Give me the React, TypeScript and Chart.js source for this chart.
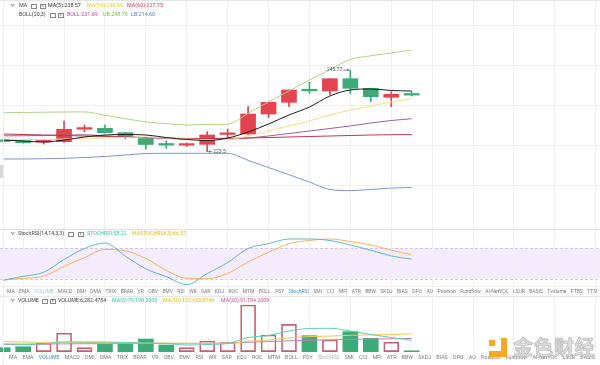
import React, { useEffect, useRef } from "react";
import { Chart, registerables } from "chart.js";
Chart.register(...registerables);

// ---------- data ----------
const indices = [0, 1, 2, 3, 4, 5, 6, 7, 8, 9, 10, 11, 12, 13, 14, 15, 16, 17, 18, 19, 20];
const opens = [226.14, 226.22, 225.88, 225.97, 229.08, 229.3, 228.21, 226.77, 225.18, 225.1, 225.32, 227.78, 227.89, 232.86, 235.77, 238.7, 238.58, 241.64, 239.25, 237.02, 237.62];
const closes = [226.02, 225.72, 225.95, 229.05, 229.15, 228.21, 227.14, 225.27, 225.12, 225.18, 227.64, 227.85, 232.86, 235.77, 238.83, 238.62, 241.64, 239.25, 237.16, 237.76, 237.56];
const highs = [226.39, 226.39, 226.39, 231.12, 230.12, 230.12, 228.3, 226.9, 226.14, 225.65, 228.46, 229.13, 234.68, 235.85, 238.9, 240.75, 241.7, 243.81, 239.3, 238.41, 238.41];
const lows = [225.9, 225.6, 225.4, 225.82, 228.46, 228.1, 226.64, 224.15, 224.28, 224.77, 223.5, 227.14, 227.8, 231.94, 234.68, 238.01, 237.59, 237.84, 235.92, 234.68, 237.34];

const ma5 = [226.39, 226.14, 225.9, 226.39, 227.14, 227.64, 227.76, 227.64, 227.01, 226.52, 226.27, 226.89, 228.38, 230.37, 232.61, 234.6, 237.34, 238.83, 239.08, 238.71, 238.57];
const ma10 = [226.64, 226.52, 226.52, 226.64, 226.77, 226.89, 227.01, 227.14, 226.89, 226.64, 226.52, 226.52, 227.39, 228.63, 229.88, 231.12, 232.61, 233.86, 234.85, 235.85, 236.69];
const ma60 = [227.89, 227.76, 227.64, 227.51, 227.39, 227.26, 227.14, 227.01, 226.89, 226.77, 226.77, 226.82, 226.89, 227.01, 227.14, 227.26, 227.39, 227.51, 227.64, 227.71, 227.75];
const bollMid = [227.43, 227.45, 227.52, 227.6, 227.71, 227.42, 227.18, 226.97, 226.78, 226.6, 226.57, 226.62, 226.89, 227.39, 228.01, 228.63, 229.25, 229.88, 230.62, 231.24, 231.69];
const bollUp = [233.18, 233.23, 233.31, 233.36, 233.38, 232.54, 231.69, 230.9, 230.47, 230.12, 230.25, 230.3, 233.03, 235.87, 238.61, 241.32, 243.87, 246.42, 247.34, 248.04, 248.78];
const bollLow = [221.67, 221.67, 221.74, 221.84, 222.04, 222.29, 222.66, 223.03, 223.08, 223.08, 223.08, 223.08, 221.34, 219.53, 217.76, 215.95, 214.08, 213.81, 214.08, 214.43, 214.6];

const stochK = [16.9, 24.7, 32.5, 57.5, 79.0, 89.8, 64.2, 39.3, 24.1, 8.3, 30.0, 51.5, 79.0, 88.4, 97.6, 97.6, 94.7, 85.9, 75.7, 64.4, 58.22];
const stochD = [16.9, 20.8, 24.7, 44.2, 61.0, 77.1, 74.5, 59.5, 36.2, 20.8, 20.0, 30.2, 52.6, 71.6, 88.4, 94.7, 97.6, 92.7, 85.9, 75.7, 66.57];
const stochBand = [20, 80];

const volumes = [27600, 34500, 58000, 127000, 27600, 51000, 51000, 87600, 46200, 27600, 73800, 62100, 322000, 115200, 189000, 110400, 80700, 138000, 92500, 64900, 6282.4784];
const volMa5 = [53100, 49700, 53100, 66900, 66900, 66900, 63500, 60000, 56600, 46200, 49700, 56600, 98000, 111800, 142800, 160100, 161500, 142800, 118700, 98000, 79190.5009];
const volMa10 = [69000, 67000, 65000, 66000, 64000, 62000, 61000, 60000, 59000, 58000, 57000, 57000, 72000, 80000, 95000, 104000, 108000, 113000, 116000, 119000, 122433.8746];
const volMa20 = [51000, 52000, 53000, 54000, 55000, 55000, 56000, 56000, 57000, 57000, 58000, 59000, 65000, 70000, 75000, 79000, 82000, 85000, 87000, 89000, 91184.2009];

const priceGridTicks = [215, 225, 235, 245, 255];
const timeGridTicks = [1, 3, 5, 7, 9, 11, 13, 15, 17, 19, 21, 23, 25, 27, 29];
const highMark = { index: 17, label: "245.77" };
const lowMark = { index: 10, label: "223.5" };

const indicatorTabs = ["MA", "EMA", "VOLUME", "MACD", "DMI", "DMA", "TRIX", "BRAR", "VR", "OBV", "EMV", "RSI", "WR", "SAR", "KDJ", "ROC", "MTM", "BOLL", "PSY", "StochRSI", "SMI", "CCI", "MFI", "ATR", "BBW", "SKDJ", "BIAS", "DPO", "AO", "Position", "Fundflow", "AI-NetVOL", "LSUR", "BASIS", "Tvolume", "FTBS", "TTSI"];
const indicatorTabs2 = indicatorTabs.slice(0, 34);

// ---------- styles ----------
const RED = "#e5434f";
const GREEN = "#3dab78";
const GRID = "#f0f0f0";
const X_MIN = -0.132;
const X_MAX = 29.208;

const xScaleOpts = () => ({
  type: "linear",
  min: X_MIN,
  max: X_MAX,
  offset: false,
  display: true,
  ticks: { display: false },
  border: { display: false },
  grid: { display: true, drawTicks: false, offset: false, color: GRID, lineWidth: 1 },
  afterBuildTicks: (s: any) => {
    s.ticks = timeGridTicks.map((v) => ({ value: v }));
  },
});

const pts = (arr: number[]) => indices.map((i) => ({ x: i, y: arr[i] }));
const lineDs = (label: string, arr: number[], color: string, order: number) => ({
  type: "line",
  label,
  data: pts(arr),
  borderColor: color,
  borderWidth: 1,
  pointRadius: 0,
  cubicInterpolationMode: "monotone",
  fill: false,
  order,
});

const markPlugin = {
  id: "hlmarks",
  afterDatasetsDraw(chart: any) {
    const { ctx, scales } = chart;
    const x = scales.x;
    const y = scales.y;
    ctx.save();
    ctx.font = "5px Roboto";
    ctx.fillStyle = "#555";
    ctx.strokeStyle = "#555";
    ctx.lineWidth = 0.7;
    ctx.textBaseline = "middle";
    const hx = x.getPixelForValue(highMark.index);
    const hy = y.getPixelForValue(highs[highMark.index]);
    ctx.textAlign = "right";
    ctx.fillText(highMark.label, hx - 8, hy);
    ctx.beginPath();
    ctx.moveTo(hx - 7, hy);
    ctx.lineTo(hx - 1.5, hy);
    ctx.stroke();
    ctx.beginPath();
    ctx.moveTo(hx - 1, hy);
    ctx.lineTo(hx - 3, hy - 1.2);
    ctx.lineTo(hx - 3, hy + 1.2);
    ctx.closePath();
    ctx.fill();
    const lx = x.getPixelForValue(lowMark.index);
    const ly = y.getPixelForValue(lows[lowMark.index]);
    ctx.textAlign = "left";
    ctx.fillText(lowMark.label, lx + 6, ly);
    ctx.beginPath();
    ctx.moveTo(lx + 1.5, ly);
    ctx.lineTo(lx + 5, ly);
    ctx.stroke();
    ctx.beginPath();
    ctx.moveTo(lx + 1, ly);
    ctx.lineTo(lx + 3, ly - 1.2);
    ctx.lineTo(lx + 3, ly + 1.2);
    ctx.closePath();
    ctx.fill();
    ctx.restore();
  },
};

const bandPlugin = {
  id: "band",
  beforeDraw(chart: any) {
    const { ctx, chartArea, scales } = chart;
    const y = scales.y;
    const top = y.getPixelForValue(stochBand[1]);
    const bot = y.getPixelForValue(stochBand[0]);
    ctx.save();
    ctx.fillStyle = "#f4ebfc";
    ctx.fillRect(chartArea.left, top, chartArea.right - chartArea.left, bot - top);
    ctx.strokeStyle = "#d6c6ea";
    ctx.lineWidth = 1;
    ctx.setLineDash([3, 2]);
    [top, bot].forEach((p) => {
      ctx.beginPath();
      ctx.moveTo(chartArea.left, Math.round(p) + 0.5);
      ctx.lineTo(chartArea.right, Math.round(p) + 0.5);
      ctx.stroke();
    });
    ctx.restore();
  },
};

const baseOpts = {
  responsive: false,
  animation: false,
  events: [],
  layout: { padding: 0 },
  plugins: { legend: { display: false }, tooltip: { enabled: false } },
};

// ---------- small UI helpers ----------
const FONT = "Roboto, 'Noto Sans', sans-serif";

function Txt({ x, cy, text, color = "#444", size = 5.4 }: any) {
  return (
    <span
      style={{
        position: "absolute",
        left: x,
        top: cy - size / 2,
        fontSize: size,
        lineHeight: `${size}px`,
        color,
        whiteSpace: "nowrap",
        fontFamily: FONT,
      }}
    >
      {text}
    </span>
  );
}

function Chevron({ x, cy }: any) {
  return (
    <span
      style={{
        position: "absolute",
        left: x,
        top: cy - 2.2,
        width: 2.4,
        height: 2.4,
        borderRight: "0.7px solid #999",
        borderBottom: "0.7px solid #999",
        transform: "rotate(45deg)",
      }}
    />
  );
}

function IconBox({ x, cy, cross = false }: any) {
  return (
    <span
      style={{
        position: "absolute",
        left: x,
        top: cy - 2.2,
        width: 3.6,
        height: 3.6,
        border: "0.6px solid #888",
        fontSize: 3.6,
        lineHeight: "3.6px",
        textAlign: "center",
        color: "#666",
        fontFamily: FONT,
      }}
    >
      {cross ? "×" : "·"}
    </span>
  );
}

function TabRow({ left, right, cy, size, labels, colors }: any) {
  return (
    <div
      style={{
        position: "absolute",
        left,
        width: right - left,
        top: cy - size / 2,
        height: size,
        display: "flex",
        justifyContent: "space-between",
        fontSize: size,
        lineHeight: `${size}px`,
        fontFamily: FONT,
        color: "#7a7a7a",
        whiteSpace: "nowrap",
      }}
    >
      {labels.map((l: string) => (
        <span key={l} style={{ color: colors[l] || "#7a7a7a" }}>
          {l}
        </span>
      ))}
    </div>
  );
}

function HLine({ y, color = "#e4e4e4" }: any) {
  return <div style={{ position: "absolute", left: 0, top: y, width: 600, height: 1, background: color }} />;
}

export default function App() {
  const mainRef = useRef<HTMLCanvasElement>(null);
  const stochRef = useRef<HTMLCanvasElement>(null);
  const volRef = useRef<HTMLCanvasElement>(null);

  useEffect(() => {
    document.body.style.margin = "0";
    const up = indices.map((i) => closes[i] >= opens[i]);
    const candleColors = up.map((u) => (u ? RED : GREEN));

    const main = new Chart(mainRef.current as HTMLCanvasElement, {
      type: "bar",
      data: {
        datasets: [
          lineDs("MA5", ma5, "#1d1d1d", 0),
          lineDs("MA10", ma10, "#efe08c", 1),
          lineDs("MA60", ma60, "#b8384e", 1),
          lineDs("BOLL", bollMid, "#a65c9e", 1),
          lineDs("UB", bollUp, "#b0d488", 1),
          lineDs("LB", bollLow, "#7f98cb", 1),
          {
            type: "bar",
            label: "body",
            data: indices.map((i) => ({ x: i, y: [opens[i], closes[i]] })),
            backgroundColor: candleColors,
            barThickness: 15,
            minBarLength: 1.6,
            grouped: false,
            order: 5,
          },
          {
            type: "bar",
            label: "wick",
            data: indices.map((i) => ({ x: i, y: [lows[i], highs[i]] })),
            backgroundColor: candleColors,
            barThickness: 1,
            grouped: false,
            order: 6,
          },
        ] as any,
      },
      options: {
        ...baseOpts,
        scales: {
          x: xScaleOpts(),
          y: {
            type: "linear",
            min: 204.253,
            max: 261.219,
            display: true,
            ticks: { display: false },
            border: { display: false },
            grid: { drawTicks: false, color: GRID },
            afterBuildTicks: (s: any) => {
              s.ticks = priceGridTicks.map((v) => ({ value: v }));
            },
          },
        },
      } as any,
      plugins: [markPlugin],
    });

    const stoch = new Chart(stochRef.current as HTMLCanvasElement, {
      type: "line",
      data: {
        datasets: [
          lineDs("STOCHRSI", stochK, "#63b7cf", 0),
          lineDs("MASTOCHRSI", stochD, "#f2b562", 1),
        ] as any,
      },
      options: {
        ...baseOpts,
        scales: {
          x: xScaleOpts(),
          y: { type: "linear", min: 5.73, max: 117.13, display: false },
        },
      } as any,
      plugins: [bandPlugin],
    });

    const vol = new Chart(volRef.current as HTMLCanvasElement, {
      type: "bar",
      data: {
        datasets: [
          lineDs("MA5", volMa5, "#62cbb4", 0),
          lineDs("MA10", volMa10, "#f1c84c", 1),
          lineDs("MA20", volMa20, "#c97cbd", 2),
          {
            type: "bar",
            label: "VOLUME",
            data: indices.map((i) => ({ x: i, y: volumes[i] })),
            backgroundColor: up.map((u) => (u ? "rgba(255,255,255,0)" : GREEN)),
            borderColor: up.map((u) => (u ? "#c45e72" : GREEN)),
            borderWidth: up.map((u) => (u ? 1 : 0)),
            borderSkipped: false,
            barThickness: 15,
            grouped: false,
            order: 5,
          },
        ] as any,
      },
      options: {
        ...baseOpts,
        scales: {
          x: xScaleOpts(),
          y: { type: "linear", min: -2070, max: 377430, display: false },
        },
      } as any,
    });

    return () => {
      main.destroy();
      stoch.destroy();
      vol.destroy();
    };
  }, []);

  const blue = "#3d8fd1";
  return (
    <div
      style={{
        position: "fixed",
        left: 0,
        top: 0,
        width: 600,
        height: 365,
        background: "#fff",
        overflow: "hidden",
        fontFamily: FONT,
      }}
    >
      <canvas ref={mainRef} width={600} height={229} style={{ position: "absolute", left: 0, top: 0, width: 600, height: 229 }} />
      <canvas ref={stochRef} width={600} height={57} style={{ position: "absolute", left: 0, top: 229, width: 600, height: 57 }} />
      <canvas ref={volRef} width={600} height={55} style={{ position: "absolute", left: 0, top: 297, width: 600, height: 55 }} />

      <HLine y={0} color="#e6e6e6" />
      <HLine y={229} color="#e0e0e0" />
      <HLine y={286} color="#eeeeee" />
      <HLine y={296} color="#e8e8e8" />
      <div style={{ position: "absolute", left: 3, top: 0, width: 1, height: 365, background: "#efefef" }} />
      <div style={{ position: "absolute", left: 0, top: 165, width: 2.5, height: 13, background: "#d8d8d8" }} />

      {/* main legend */}
      <Chevron x={11} cy={5.5} />
      <Txt x={19} cy={6} text="MA" />
      <IconBox x={31} cy={6} />
      <IconBox x={40} cy={6} cross />
      <Txt x={48} cy={6} text="MA(5):238.57" color="#333" />
      <Txt x={87} cy={6} text="MA(10):236.69" color="#e3c72a" />
      <Txt x={127} cy={6} text="MA(60):227.75" color="#cf3e5a" />
      <Txt x={19} cy={15} text="BOLL(20,3)" />
      <IconBox x={50} cy={15} />
      <IconBox x={58} cy={15} cross />
      <Txt x={67} cy={15} text="BOLL:231.69" color="#c1489e" />
      <Txt x={103} cy={15} text="UB:248.78" color="#7fb843" />
      <Txt x={131} cy={15} text="LB:214.60" color="#4d7fc4" />

      {/* stoch legend */}
      <Chevron x={11} cy={233.5} />
      <Txt x={18} cy={234} text="StochRSI(14,14,3,3)" size={5.3} />
      <IconBox x={68} cy={234} />
      <IconBox x={78} cy={234} cross />
      <Txt x={87} cy={234} text="STOCHRSI:58.22" color="#33bfae" size={5.3} />
      <Txt x={132} cy={234} text="MASTOCHRSI(3):66.57" color="#e6b520" size={5.3} />

      <TabRow left={7} right={598} cy={291.5} size={5} labels={indicatorTabs} colors={{ StochRSI: blue, VOLUME: "#a9bfd6" }} />

      {/* volume legend */}
      <Chevron x={11} cy={300.5} />
      <Txt x={18} cy={301} text="VOLUME" size={5.3} />
      <IconBox x={42} cy={301} />
      <IconBox x={50} cy={301} cross />
      <Txt x={58} cy={301} text="VOLUME:6,282.4784" color="#444" size={5.3} />
      <Txt x={112} cy={301} text="MA(5):79,190.5009" color="#33bfae" size={5.3} />
      <Txt x={163} cy={301} text="MA(10):122,433.8746" color="#e6b520" size={5.3} />
      <Txt x={221} cy={301} text="MA(20):91,184.2009" color="#c4509e" size={5.3} />

      <TabRow left={9} right={595} cy={358} size={5.3} labels={indicatorTabs2} colors={{ VOLUME: blue, StochRSI: "#b5b5b5" }} />

      {/* watermark */}
      <div style={{ position: "absolute", left: 489, top: 340, width: 6, height: 6, background: "#f6a821" }} />
      <div style={{ position: "absolute", left: 501, top: 338, width: 6, height: 19, background: "#f6a821" }} />
      <div style={{ position: "absolute", left: 489, top: 351, width: 18, height: 6, background: "#f6a821" }} />
      <div
        style={{
          position: "absolute",
          left: 513,
          top: 335,
          fontSize: 20,
          lineHeight: "24px",
          fontWeight: 700,
          fontFamily: "'Noto Sans CJK SC', sans-serif",
          color: "rgba(215,215,215,0.9)",
          WebkitTextStroke: "0.6px #b5b5b5",
          letterSpacing: 0.5,
          whiteSpace: "nowrap",
        }}
      >
        金色财经
      </div>
    </div>
  );
}
